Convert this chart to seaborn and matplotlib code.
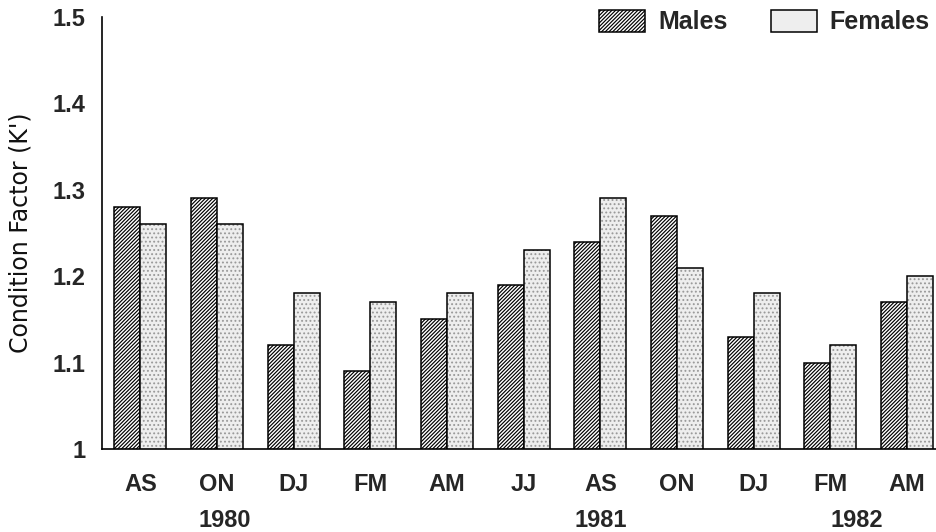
import matplotlib
matplotlib.use("Agg")
import matplotlib.pyplot as plt
import matplotlib.patches as mpatches
import seaborn as sns
import pandas as pd

periods = ["AS", "ON", "DJ", "FM", "AM", "JJ", "AS", "ON", "DJ", "FM", "AM"]
males = [1.28, 1.29, 1.12, 1.09, 1.15, 1.19, 1.24, 1.27, 1.13, 1.10, 1.17]
females = [1.26, 1.26, 1.18, 1.17, 1.18, 1.23, 1.29, 1.21, 1.18, 1.12, 1.20]
years = ["1980", "1981", "1982"]
year_pos = [1.1, 6.0, 9.35]
yticks = [1.0, 1.1, 1.2, 1.3, 1.4, 1.5]
ytick_labels = ["1", "1.1", "1.2", "1.3", "1.4", "1.5"]

sns.set_theme(style="white")
plt.rcParams['font.family'] = ['Liberation Sans', 'DejaVu Sans']
plt.rcParams['hatch.linewidth'] = 0.85

MALE_HATCH = "/////////"
FEM_HATCH = "...."
FEM_FACE = "#eeeeee"
FEM_DOT = "#999999"

n = len(periods)
df = pd.DataFrame({
    "idx": list(range(n)) * 2,
    "sex": ["Males"] * n + ["Females"] * n,
    "value": males + females,
})

fig = plt.figure(figsize=(9.37, 5.32), dpi=100)
ax = fig.add_axes([102 / 937, 1 - 449 / 532, (936 - 102) / 937, (449 - 17) / 532])

sns.barplot(data=df, x="idx", y="value", hue="sex", hue_order=["Males", "Females"],
            palette=["white", FEM_FACE], width=0.68, dodge=True, ax=ax,
            edgecolor="black", linewidth=1.1, legend=False, errorbar=None)

bars = list(ax.patches)
for i, p in enumerate(bars):
    if i < n:
        p.set_hatch(MALE_HATCH)
        p.set_facecolor("white")
    else:
        # stipple drawn in gray (hatch takes edge colour), outline added on top
        p.set_hatch(FEM_HATCH)
        p.set_facecolor(FEM_FACE)
        p.set_edgecolor(FEM_DOT)
        p.set_linewidth(0)
        outline = mpatches.Rectangle(p.get_xy(), p.get_width(), p.get_height(),
                                     fill=False, edgecolor="black", linewidth=1.1,
                                     zorder=p.get_zorder() + 0.1)
        ax.add_patch(outline)

ax.set_ylim(1.0, 1.5)
ax.set_xlim(-0.5, (936 - 140) / 76.7)
ax.set_yticks(yticks)
ax.set_yticklabels(ytick_labels, fontsize=17, fontweight="bold")
ax.set_xticks(range(n))
ax.set_xticklabels(periods, fontsize=17, fontweight="bold")
ax.set_xlabel("")
ax.set_ylabel("Condition Factor (K')", fontsize=17, labelpad=14,
              family=["DejaVu Sans"], color="#111111")

for s in ["top", "right"]:
    ax.spines[s].set_visible(False)
for s in ["left", "bottom"]:
    ax.spines[s].set_linewidth(1.2)
    ax.spines[s].set_color("black")
ax.tick_params(axis="x", direction="out", length=7, width=1.0, color="#555555", pad=10)
ax.tick_params(axis="y", direction="out", length=6, width=1.0, color="black", pad=6)
ax.grid(False)

for yr, xp in zip(years, year_pos):
    ax.text(xp, -0.165, yr, transform=ax.get_xaxis_transform(), ha="center", va="center",
            fontsize=17, fontweight="bold")

h1 = mpatches.Patch(facecolor="white", edgecolor="black", hatch=MALE_HATCH, linewidth=1.1, label="Males")
h2 = mpatches.Patch(facecolor=FEM_FACE, edgecolor="black", linewidth=1.1, label="Females")
fig.legend(handles=[h1, h2], ncol=2, loc="upper right",
           bbox_to_anchor=(930 / 937, 1 - 10 / 532), frameon=False,
           prop={"size": 18, "weight": "bold"}, handlelength=1.85, handleheight=0.95,
           handletextpad=0.5, columnspacing=1.75, borderpad=0, borderaxespad=0)

fig.savefig("out.png", dpi=100)
